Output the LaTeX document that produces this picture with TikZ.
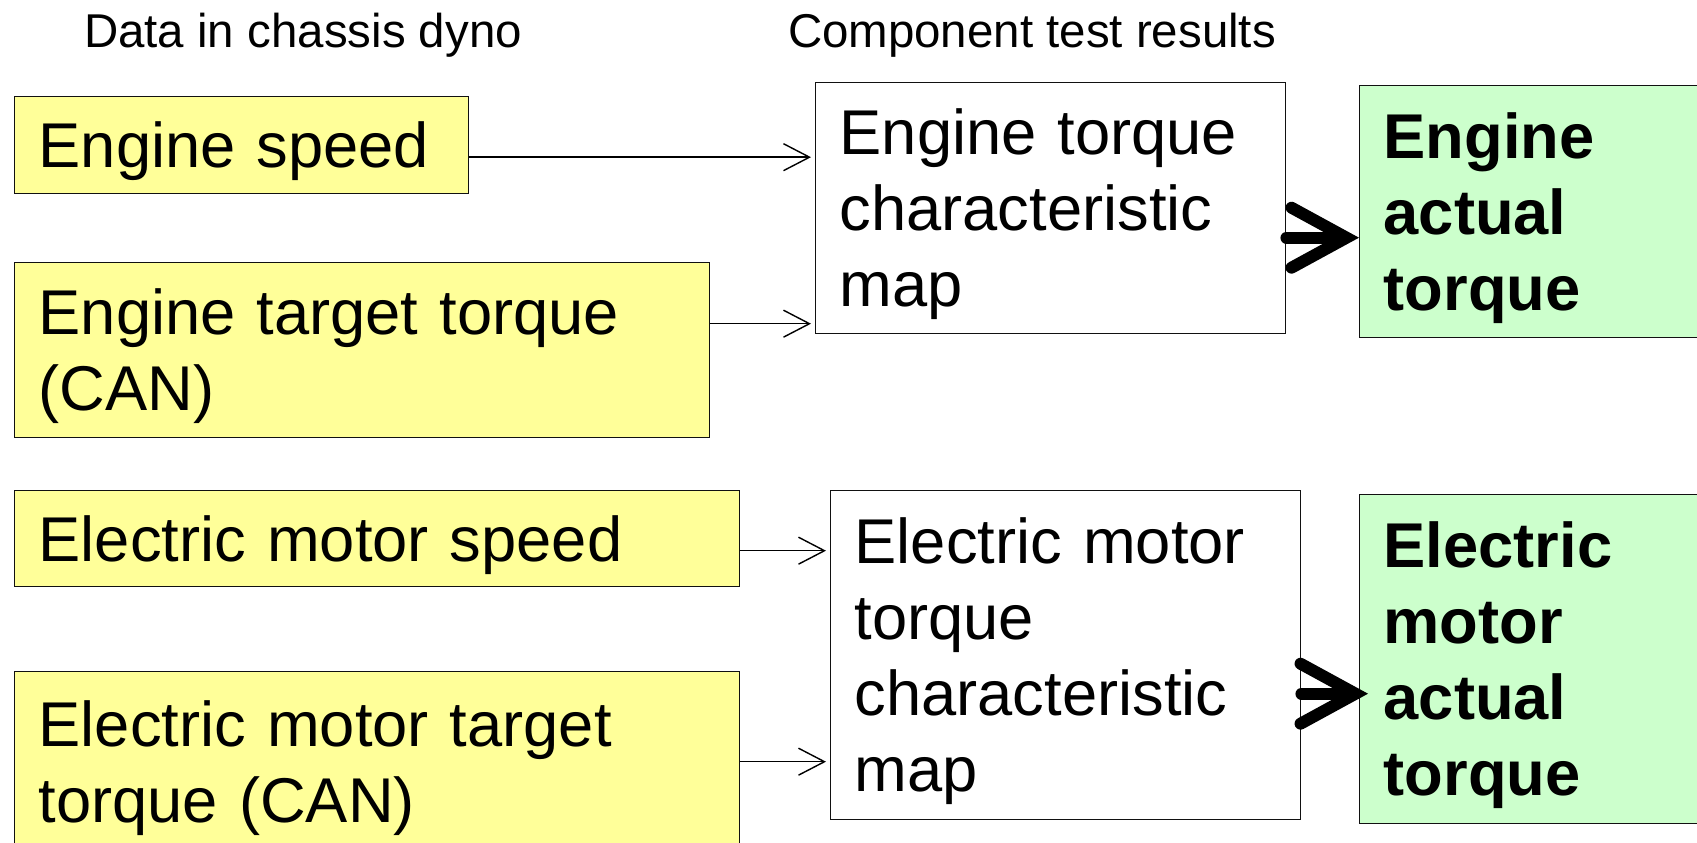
\documentclass[tikz,border=0pt]{standalone}
\usepackage{fontspec}
\setmainfont{Liberation Sans}
\usetikzlibrary{arrows.meta}
\definecolor{TQYellow}{HTML}{FFFF99}
\definecolor{TQGreen}{HTML}{CCFFCC}
\definecolor{TQLine}{HTML}{111111}

\tikzset{
  box/.style={draw=TQLine,line width=.4pt,anchor=north west,inner xsep=.24cm,inner ysep=0pt,align=left,font=\fontsize{18}{21.6}\selectfont,execute at begin node={\rule{0pt}{16.5pt}}},
  inbox/.style={box,fill=TQYellow},
  mapbox/.style={box,fill=white},
  outbox/.style={box,fill=TQGreen,font=\fontsize{18}{21.6}\selectfont\bfseries},
  head/.style={font=\fontsize{13.5}{16}\selectfont},
  flow/.style={-{Straight Barb[length=.26cm,width=.27cm]},line width=.4pt,shorten >=.4mm},
  result/.style={-{Straight Barb[length=.55cm,width=.6cm,line cap=round]},line width=3.4pt,line cap=round}
}

\begin{document}
\begin{tikzpicture}[x=1cm,y=1cm]
\path[use as bounding box] (0,0) rectangle (16.97,8.43);
\fill[white] (0,0) rectangle (16.97,8.43);
% headings
\node[head] (hdrin) at (3.03,8.08) {Data in chassis dyno};
\node[head] (hdrmap) at (10.32,8.08) {Component test results};
% measured inputs
\node[inbox,text width=4.06cm,minimum height=.97cm] (speed1) at (.14,7.47) {Engine speed};
\node[inbox,text width=6.47cm,minimum height=1.75cm] (target1) at (.14,5.81) {Engine target torque\\(CAN)};
\node[inbox,text width=6.77cm,minimum height=.96cm] (speed2) at (.14,3.53) {Electric motor speed};
\node[inbox,text width=6.77cm,minimum height=1.80cm] (target2) at (.14,1.72) {Electric motor target\\torque (CAN)};
% maps
\node[mapbox,text width=4.22cm,minimum height=2.51cm] (map1) at (8.15,7.61) {Engine torque\\characteristic\\map};
\node[mapbox,text width=4.22cm,minimum height=3.29cm] (map2) at (8.30,3.53) {Electric motor\\torque\\characteristic\\map};
% results
\node[outbox,text width=3.12cm,minimum height=2.52cm] (out1) at (13.59,7.58) {Engine\\actual\\torque};
\node[outbox,text width=3.12cm,minimum height=3.29cm] (out2) at (13.59,3.49) {Electric\\motor\\actual\\torque};
% connectors
\draw[flow] ([yshift=-1.2mm]speed1.east) -- ([yshift=-1.2mm]speed1.east -| map1.west);
\draw[flow] ([yshift=2.65mm]target1.east) -- ([yshift=2.65mm]target1.east -| map1.west);
\draw[flow] ([yshift=-1.2mm]speed2.east) -- ([yshift=-1.2mm]speed2.east -| map2.west);
\draw[flow] (target2.east) -- (target2.east -| map2.west);
\draw[result] ([yshift=-2.95mm]map1.east) -- ([yshift=-2.95mm]map1.east -| out1.west);
\draw[result] ([yshift=-3.85mm]map2.east) -- ([yshift=-3.85mm,xshift=.9mm]map2.east -| out2.west);
\end{tikzpicture}
\end{document}
